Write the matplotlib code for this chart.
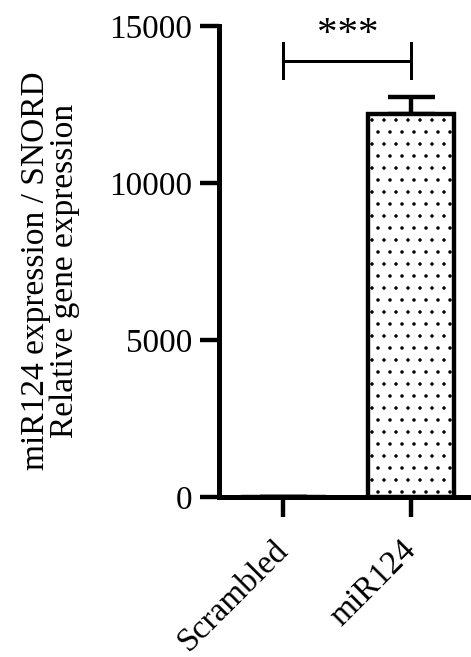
import numpy as np
import matplotlib
matplotlib.use("Agg")
import matplotlib.pyplot as plt

# данные
groups = ["Scrambled", "miR124"]
values = [1, 12200]
errors = [0, 550]
sig_label = "***"

# dpi 72: 1 pt = 1 px, точечная штриховка с шагом ~12 px
DPI = 72
plt.rcParams['font.family'] = ['Liberation Serif', 'DejaVu Serif']
plt.rcParams['hatch.linewidth'] = 1.0
plt.rcParams['hatch.color'] = 'black'

fig = plt.figure(figsize=(471 / DPI, 657 / DPI), dpi=DPI)
ax = fig.add_axes([219 / 471, 160 / 657, 256 / 471, 471 / 657])

x = np.arange(len(groups))
ax.bar(x, values, width=0.67, color='white', edgecolor='black',
       linewidth=4.4, hatch='.', zorder=2)
ax.errorbar(x, values, yerr=[[0, 0], errors], fmt='none', ecolor='black',
            elinewidth=4.4, capsize=23.5, capthick=4.4, zorder=1)

# скобка значимости
ax.plot([0, 1], [13900, 13900], color='black', lw=3, clip_on=False)
ax.plot([0, 0], [13350, 14450], color='black', lw=3, clip_on=False)
ax.plot([1, 1], [13350, 14450], color='black', lw=3, clip_on=False)
ax.text(0.5, 14720, sig_label, ha='center', va='center', fontsize=41)

ax.set_xlim(-0.504, 1.5)
ax.set_ylim(0, 15000)
ax.set_yticks([0, 5000, 10000, 15000])
ax.set_xticks(x)
ax.set_xticklabels(groups, rotation=45, ha='right', va='center',
                   rotation_mode='anchor')

ax.spines['top'].set_visible(False)
ax.spines['right'].set_visible(False)
for s in ['left', 'bottom']:
    ax.spines[s].set_linewidth(5)
ax.tick_params(axis='both', width=4.4, length=19.5, labelsize=33.3, pad=7)
ax.tick_params(axis='x', pad=29)

ax.set_ylabel("miR124 expression / SNORD\nRelative gene expression",
              fontsize=33.5, linespacing=0.95, labelpad=29)
ax.yaxis.label.set_y(0.48)

fig.savefig("out.png", dpi=DPI)
